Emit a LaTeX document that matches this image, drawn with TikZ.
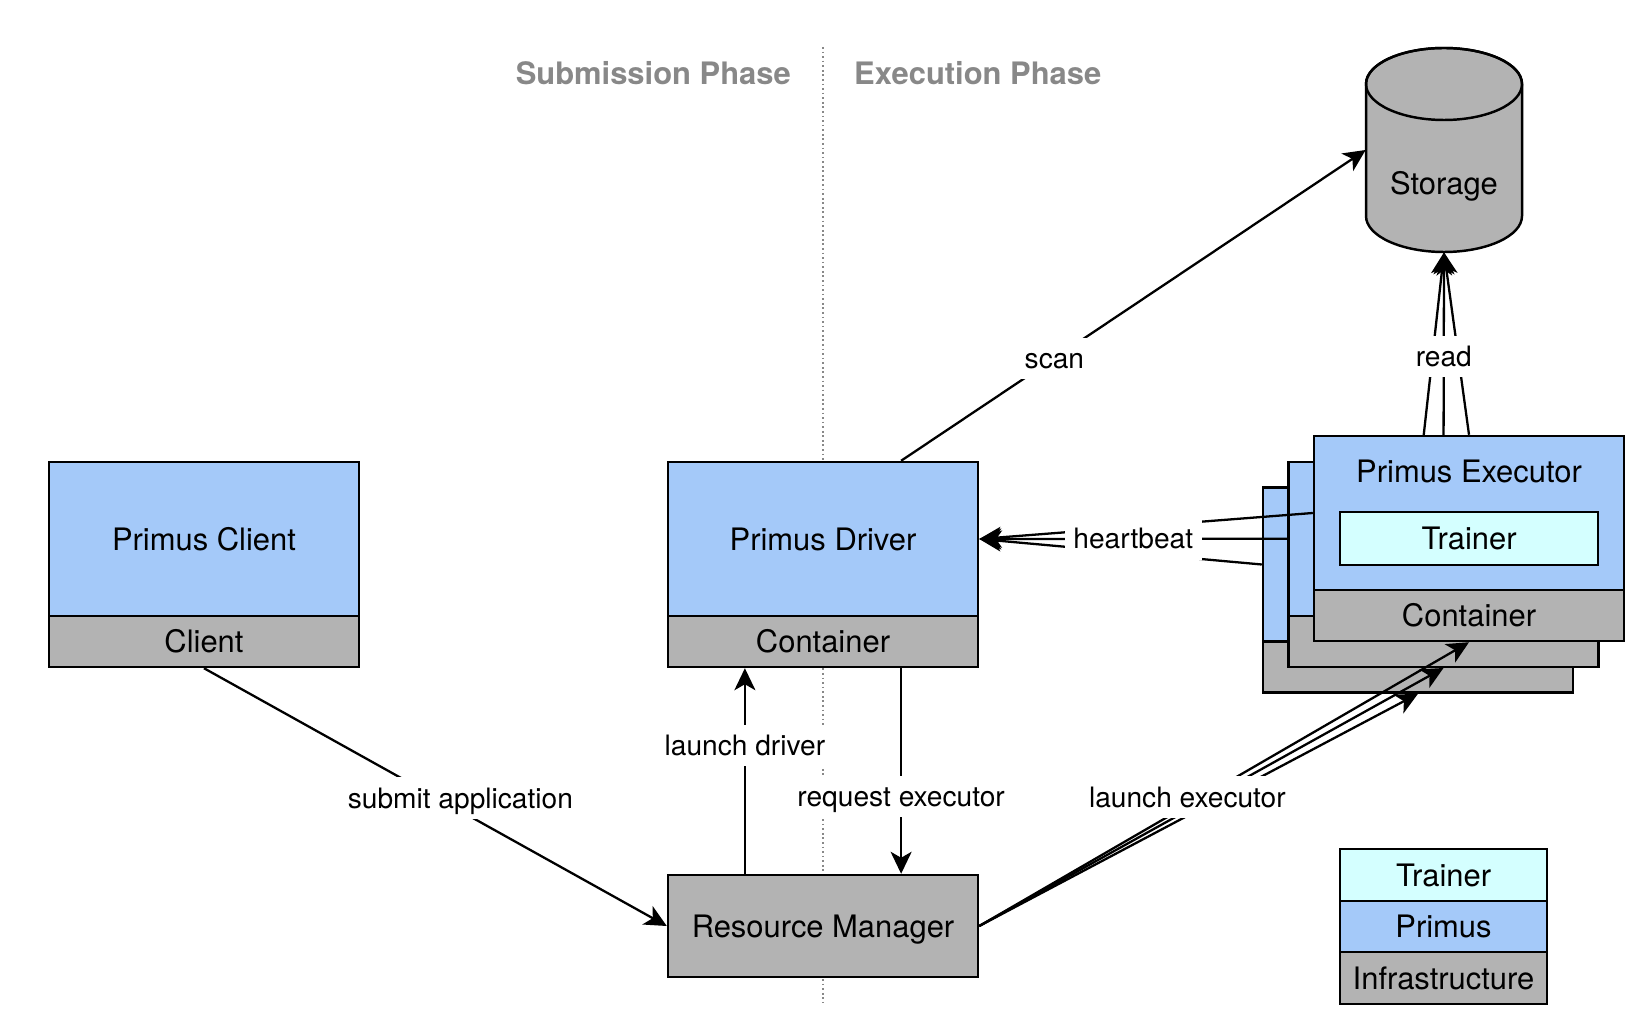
\documentclass[tikz,border=0pt]{standalone}
\usepackage{fontspec}
\setmainfont{TeX Gyre Heros}
\usetikzlibrary{arrows.meta,calc}
\pgfdeclarelayer{background}
\pgfsetlayers{background,main}
\definecolor{primus}{RGB}{164,201,249}
\definecolor{trainer}{RGB}{212,255,255}
\definecolor{infra}{RGB}{179,179,179}
\definecolor{phase}{RGB}{136,136,136}
\begin{document}
\begin{tikzpicture}[
        box/.style={draw, line width=1.4pt, minimum width=6.2cm, inner sep=0pt, text height=12.7pt, text depth=0pt, font=\fontsize{17.6}{20}\selectfont},
        upper/.style={box, fill=primus, minimum height=3.08cm},
        lower/.style={box, fill=infra, minimum height=1.02cm},
        legend/.style={box, minimum width=4.14cm, minimum height=1.03cm},
        plain/.style={text height=12.7pt, text depth=0pt, font=\fontsize{17.6}{20}\selectfont},
        lbl/.style={fill=white, inner xsep=5pt, inner ysep=6pt, text height=11.5pt, text depth=0pt, font=\fontsize{16}{19}\selectfont},
        link/.style={line width=1.3pt, -{Stealth[length=0.44cm, width=0.42cm, inset=0.12cm]}},
        phasetitle/.style={text=phase, font=\bfseries\fontsize{17.6}{20}\selectfont}
    ]
    \useasboundingbox (0,0) rectangle (32.6,20.46);

    \coordinate (divtop) at (16.46,19.52);
    \coordinate (divbot) at (16.46,0.40);
    \node[phasetitle, anchor=east] (subphase) at (15.94,19.0) {Submission Phase};
    \node[phasetitle, anchor=west] (exphase) at (16.96,19.0) {Execution Phase};

    \node[upper] (clientp) at (4.08,9.68) {Primus Client};
    \node[lower] (client) at (4.08,7.63) {Client};
    \node[upper] (driverp) at (16.46,9.68) {Primus Driver};
    \node[lower] (driverc) at (16.46,7.63) {Container};
    \node[box, fill=infra, minimum height=2.04cm] (rm) at (16.46,1.94) {Resource Manager};

    % storage
    \node[minimum width=3.12cm, minimum height=4.08cm] (storage) at (28.88,17.46) {};
    \filldraw[fill=infra, line width=1.4pt] (27.32,18.78) -- (27.32,16.14)
        arc[start angle=180, end angle=360, x radius=1.56cm, y radius=0.72cm] -- (30.44,18.78)
        arc[start angle=0, end angle=180, x radius=1.56cm, y radius=0.72cm] -- cycle;
    \draw[line width=1.4pt] (28.88,18.78) ellipse[x radius=1.56cm, y radius=0.72cm];
    \node[plain] (storagetext) at (28.88,16.80) {Storage};

    % executors, back to front
    \node[upper] (ex3) at (28.36,9.17) {};
    \node[lower] (ex3c) at (28.36,7.12) {};
    \node[upper] (ex2) at (28.87,9.685) {};
    \node[lower] (ex2c) at (28.87,7.635) {};
    \node[upper] (ex1) at (29.38,10.20) {};
    \node[lower] (ex1c) at (29.38,8.15) {Container};
    \node[plain] (ex1title) at (29.38,11.04) {Primus Executor};
    \node[box, fill=trainer, minimum width=5.16cm, minimum height=1.06cm] (trainer) at (29.38,9.69) {Trainer};

    \node[legend, fill=trainer] (lgtrainer) at (28.87,2.96) {Trainer};
    \node[legend, fill=primus] (lgprimus) at (28.87,1.93) {Primus};
    \node[legend, fill=infra] (lginfra) at (28.87,0.90) {Infrastructure};

    \begin{pgfonlayer}{background}
        \draw[phase, line width=0.8pt, dash pattern=on 1pt off 1.6pt] (divtop) -- (divbot);
        \draw[link] (ex1.north) -- (storage.south);
        \draw[link] (ex3.north) -- (storage.south);
        \draw[link] (ex2.north) to node[lbl] {read} (storage.south);
    \end{pgfonlayer}

    \draw[link] (client.south) to node[lbl, pos=0.554, yshift=0.26cm] {submit application} (rm.west);
    \draw[link] ($(rm.north)!0.5!(rm.north west)$) to node[lbl, pos=0.625] {launch driver} ($(driverc.south)!0.5!(driverc.south west)$);
    \draw[link] ($(driverc.south)!0.5!(driverc.south east)$) to node[lbl, pos=0.625] {request executor} ($(rm.north)!0.5!(rm.north east)$);
    \draw[link] ($(driverp.north)!0.5!(driverp.north east)$) to node[lbl, pos=0.33] {scan} (storage.west);

    \draw[link] (ex1.west) -- (driverp.east);
    \draw[link] (ex3.west) -- (driverp.east);
    \draw[link] (ex2.west) to node[lbl] {heartbeat} (driverp.east);

    \draw[link] (rm.east) -- (ex1c.south);
    \draw[link] (rm.east) -- (ex3c.south);
    \draw[link] (rm.east) to node[lbl, pos=0.5, xshift=-0.48cm] {launch executor} (ex2c.south);
\end{tikzpicture}
\end{document}
